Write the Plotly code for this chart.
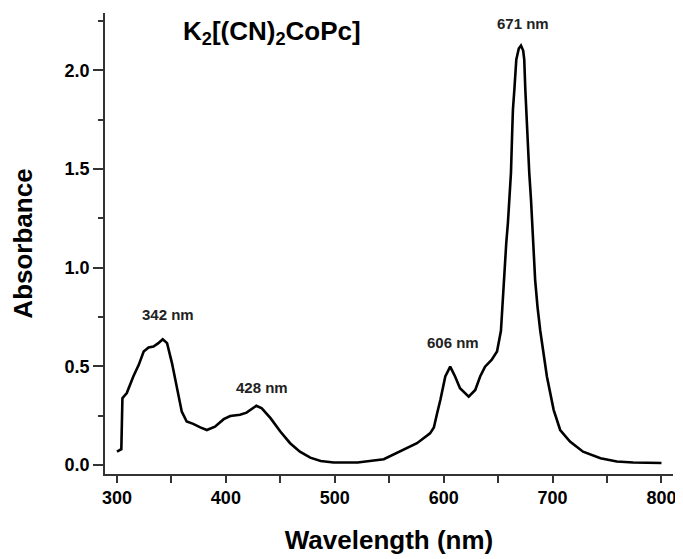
import plotly.graph_objects as go

wavelength = [300, 304, 305, 309, 315, 320, 324.5, 329, 333.5, 338, 342, 346, 350.5, 353.5,
              356.5, 359.5, 364, 370, 376.5, 382.5, 390, 398, 404, 413, 419, 428, 433, 441,
              450, 459, 468, 477.5, 487, 499, 514, 521, 545, 560, 575.5, 587.5, 591, 594,
              597, 601.5, 606, 610.5, 615, 623, 629, 633.5, 638, 644, 649, 652.6, 653.8,
              655.6, 657.5, 659, 660.5, 661.8, 663, 663.6, 664.9, 665.7, 666.7, 669, 671,
              673, 674, 675, 676.6, 678.6, 680.2, 682, 684, 686.2, 688.7, 694.8, 701, 707,
              716, 728, 744, 759, 774, 800]
absorbance = [0.067, 0.08, 0.338, 0.364, 0.448, 0.507, 0.575, 0.595, 0.60, 0.617, 0.637, 0.617,
              0.516, 0.431, 0.346, 0.27, 0.22, 0.208, 0.19, 0.177, 0.194, 0.232, 0.248, 0.254,
              0.265, 0.30, 0.287, 0.237, 0.169, 0.11, 0.067, 0.037, 0.02, 0.012, 0.012, 0.012,
              0.029, 0.067, 0.11, 0.16, 0.19, 0.262, 0.33, 0.448, 0.498, 0.448, 0.389, 0.346,
              0.38, 0.448, 0.498, 0.532, 0.575, 0.68, 0.80, 0.938, 1.126, 1.227, 1.344, 1.48,
              1.70, 1.80, 1.90, 1.986, 2.054, 2.11, 2.125, 2.10, 2.054, 1.90, 1.70, 1.48,
              1.344, 1.126, 0.938, 0.80, 0.68, 0.448, 0.279, 0.177, 0.118, 0.067, 0.034,
              0.017, 0.012, 0.01]

peak_labels = ["342 nm", "428 nm", "606 nm", "671 nm"]
peak_label_x = [347, 433.5, 609, 673]
peak_label_y = [0.76, 0.39, 0.62, 2.236]

title_text = "K<sub>2</sub>[(CN)<sub>2</sub>CoPc]"
x_title = "Wavelength (nm)"
y_title = "Absorbance"

fig = go.Figure()
fig.add_trace(go.Scatter(x=wavelength, y=absorbance, mode="lines",
                         line=dict(color="black", width=2.6), showlegend=False))

for t, x, y in zip(peak_labels, peak_label_x, peak_label_y):
    fig.add_annotation(x=x, y=y, text=t, showarrow=False, xanchor="center", yanchor="middle",
                       font=dict(family="Liberation Sans, Arial", size=15, color="#222", weight="bold"))

fig.add_annotation(x=442, y=2.19, text=title_text, showarrow=False, xanchor="center",
                   yanchor="middle",
                   font=dict(family="Liberation Sans, Arial", size=26,
                             color="black", weight="bold"))

axis_common = dict(showline=True, linecolor="#333", linewidth=1.5, showgrid=False,
                   zeroline=False, ticks="outside", tickcolor="#333", tickwidth=1.5,
                   tickfont=dict(family="Liberation Sans, Arial", size=18, color="black",
                                 weight="bold"),
                   mirror=False, automargin=False)

fig.update_xaxes(range=[289, 810.6], dtick=100, tick0=0, ticklen=7,
                 minor=dict(dtick=50, ticklen=7, tickcolor="#333", tickwidth=1.5,
                            ticks="outside"),
                 title=dict(text=x_title, standoff=23,
                            font=dict(family="Liberation Sans, Arial", size=26,
                                      color="black", weight="bold")),
                 **axis_common)
fig.update_yaxes(range=[-0.046, 2.29], dtick=0.5, tick0=0, ticklen=10, tickformat=".1f",
                 minor=dict(dtick=0.25, ticklen=5, tickcolor="#333", tickwidth=1.5,
                            ticks="outside"),
                 title=dict(text=y_title, standoff=25,
                            font=dict(family="Liberation Sans, Arial", size=26,
                                      color="black", weight="bold")),
                 **axis_common)

fig.update_layout(width=675, height=551, margin=dict(l=97, r=10, t=5, b=85),
                  paper_bgcolor="white", plot_bgcolor="white")

fig.write_html("out.html")
